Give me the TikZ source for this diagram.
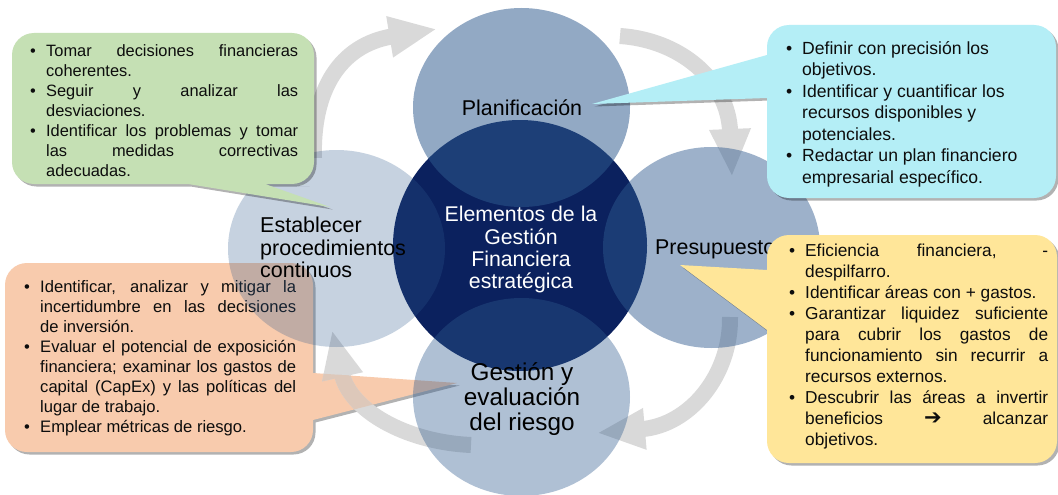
\documentclass[tikz,border=0pt]{standalone}
\usepackage{fontspec}
\setmainfont{Liberation Sans}
\newfontfamily\symf{DejaVu Sans}
\usetikzlibrary{arrows.meta,shadows}
\definecolor{navy}{HTML}{0B215E}
\definecolor{ringblue}{HTML}{2F5B8F}
\definecolor{arrowgray}{HTML}{D9D9D9}
\definecolor{arrowpeach}{HTML}{DDC8BA}
\definecolor{boxgreen}{HTML}{C5E0B4}
\definecolor{boxcyan}{HTML}{B4EEF6}
\definecolor{boxorange}{HTML}{F8CBAD}
\definecolor{boxyellow}{HTML}{FFE699}
\definecolor{txt}{HTML}{0D0D0D}
\newcommand\Bl{\makebox[16pt][l]{\textbullet}}
\newcommand\In{\hspace*{16pt}}
\newcommand\J[1]{\makebox[\bw][s]{#1}}
\newcommand\Fst{\rule{0pt}{14pt}}
\def\bw{252pt}
\tikzset{
  callout/.style={fill=#1, drop shadow={shadow xshift=2.5pt, shadow yshift=-2.5pt, opacity=0.3, fill=black}},
  arr/.style={draw=arrowgray, line width=16pt, -{Triangle[width=38pt,length=48pt]}},
  bullettext/.style={anchor=north west, inner sep=0pt, align=left, text=txt},
  circlabel/.style={inner sep=0pt, text=black},
}
\begin{document}
\begin{tikzpicture}[x=1pt,y=-1pt]
\useasboundingbox (0,0) rectangle (1058,495);
\fill[white] (0,0) rectangle (1058,495);

% ---- orange callout (below the radial diagram)
\path[callout=boxorange] (150,263) [rounded corners=22pt] -- (313,263) -- (313,340) [sharp corners] -- (313,373) -- (457,383) -- (313,420) -- (313,428) [rounded corners=22pt] -- (313,452) -- (5,452) -- (5,263) -- cycle;
\def\bw{256pt}
\node[bullettext, font=\fontsize{16.6}{20}\selectfont] (txtOrange) at (24,278.7) {%
\Fst\Bl\J{Identificar, analizar y mitigar la}\\
\In\J{incertidumbre en las decisiones}\\
\In de inversión.\\
\Bl\J{Evaluar el potencial de exposición}\\
\In\J{financiera; examinar los gastos de}\\
\In\J{capital (CapEx) y las políticas del}\\
\In lugar de trabajo.\\
\Bl Emplear métricas de riesgo.};

% ---- circular arrows
\coordinate (a1s) at (314,158); \coordinate (a1e) at (437,29);
\coordinate (a2s) at (620,36);  \coordinate (a2e) at (732,177);
\coordinate (a3s) at (730,317); \coordinate (a3e) at (597,433);
\coordinate (a4s) at (471,445); \coordinate (a4e) at (332,330);
\draw[arr] (a1s) .. controls (312,90) and (340,45) .. (a1e);
\draw[arr] (a2s) .. controls (680,40) and (728,80) .. (a2e);
\draw[arr] (a3s) .. controls (731,375) and (690,425) .. (a3e);
\draw[arr] (a4s) .. controls (405,442) and (350,410) .. (a4e);
\begin{scope}
  \clip (313,373) -- (457,383) -- (313,420) -- cycle;
  \draw[arr, draw=arrowpeach] (a4s) .. controls (405,442) and (350,410) .. (a4e);
\end{scope}

% ---- circles
\fill[navy] (520,245.5) ellipse [x radius=127, y radius=125.5];
\fill[ringblue, fill opacity=0.52] (521.5,107.5) ellipse [x radius=108.5, y radius=99.5];
\fill[ringblue, fill opacity=0.47] (711.5,247.5) ellipse [x radius=108.5, y radius=100.5];
\fill[ringblue, fill opacity=0.38] (521.5,397) ellipse [x radius=108.5, y radius=99];
\fill[ringblue, fill opacity=0.27] (336.5,248.5) ellipse [x radius=108.5, y radius=98.5];

% ---- labels
\node[circlabel, anchor=base, font=\fontsize{21.4}{22}\selectfont] (lblPlan) at (522,115) {Planificación};
\node[circlabel, anchor=base west, font=\fontsize{21.4}{22}\selectfont] (lblPres) at (655,254) {Presupuesto};
\node[circlabel, anchor=north west, align=left, font=\fontsize{21.5}{22.2}\selectfont] (lblEst) at (260,215.7) {\rule{0pt}{17pt}Establecer\\procedimientos\\continuos};
\node[circlabel, anchor=north, align=center, text=white, font=\fontsize{21.3}{22.2}\selectfont] (lblCenter) at (521,204.7) {\rule{0pt}{17pt}Elementos de la\\Gestión\\Financiera\\estratégica};
\node[circlabel, anchor=north, align=center, font=\fontsize{24.3}{25}\selectfont] (lblGest) at (522,361.7) {\rule{0pt}{19pt}Gestión y\\evaluación\\del riesgo};

% ---- green callout
\path[callout=boxgreen] (150,33) [rounded corners=22pt] -- (314,33) -- (314,184) -- (285,184) [sharp corners] -- (265,184) -- (330,207) -- (188,184) -- (170,184) [rounded corners=22pt] -- (12,184) -- (12,33) -- cycle;
\def\bw{252pt}
\node[bullettext, font=\fontsize{16.4}{20}\selectfont] (txtGreen) at (30,42) {%
\Fst\Bl\J{Tomar decisiones financieras}\\
\In coherentes.\\
\Bl\J{Seguir y analizar las}\\
\In desviaciones.\\
\Bl\J{Identificar los problemas y tomar}\\
\In\J{las medidas correctivas}\\
\In adecuadas.};

% ---- cyan callout
\path[callout=boxcyan] (900,25) [rounded corners=22pt] -- (1056,25) -- (1056,198) -- (767,198) -- (767,120) [sharp corners] -- (767,98) -- (592,104) -- (767,55) -- (767,50) [rounded corners=22pt] -- (767,25) -- cycle;
\node[bullettext, font=\fontsize{17.6}{21.5}\selectfont] (txtCyan) at (786,40) {%
\Fst\Bl Definir con precisión los\\
\In objetivos.\\
\Bl Identificar y cuantificar los\\
\In recursos disponibles y\\
\In potenciales.\\
\Bl Redactar un plan financiero\\
\In empresarial específico.};

% ---- yellow callout
\path[callout=boxyellow] (900,235) [rounded corners=22pt] -- (1057,235) -- (1057,463) -- (767,463) -- (767,350) [sharp corners] -- (767,330) -- (680,265) -- (767,270) -- (767,262) [rounded corners=22pt] -- (767,235) -- cycle;
\def\bw{243pt}
\node[bullettext, font=\fontsize{17.3}{20.9}\selectfont] (txtYellow) at (789,242.7) {%
\Fst\Bl\J{Eficiencia financiera, -}\\
\In despilfarro.\\
\Bl Identificar áreas con + gastos.\\
\Bl\J{Garantizar liquidez suficiente}\\
\In\J{para cubrir los gastos de}\\
\In\J{funcionamiento sin recurrir a}\\
\In recursos externos.\\
\Bl\J{Descubrir las áreas a invertir}\\
\In\J{beneficios {\symf\bfseries\fontsize{21}{20.9}\selectfont ➔} alcanzar}\\
\In objetivos.};
\end{tikzpicture}
\end{document}
